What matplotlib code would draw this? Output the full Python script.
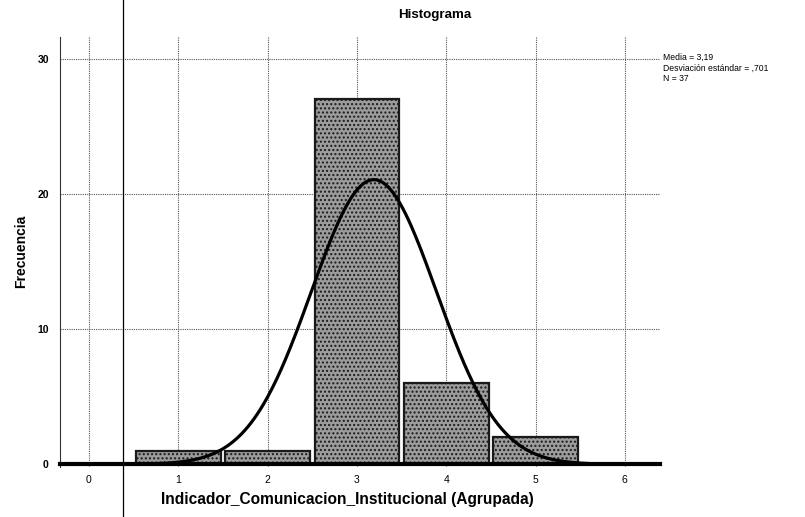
import numpy as np
import matplotlib.pyplot as plt
from matplotlib.lines import Line2D

plt.rcParams["font.family"] = ["Liberation Sans", "DejaVu Sans"]

# datos del histograma
categorias = [1, 2, 3, 4, 5]
frecuencias = [1, 1, 27, 6, 2]
media = 3.19
desviacion = 0.701
n_total = 37
x_ticks = [0, 1, 2, 3, 4, 5, 6]
y_ticks = [0, 10, 20, 30]

fig = plt.figure(figsize=(8.05, 5.17), dpi=100)
ax = fig.add_axes([0.0745, 0.0967, 0.745, 0.834])

ax.bar(categorias, frecuencias, width=0.95, color="#9c9c9c",
       edgecolor="#1a1a1a", linewidth=1.6, hatch="....", zorder=2)

# curva normal escalada a N * ancho de clase
xs = np.linspace(-0.3, 6.4, 400)
ys = n_total / (desviacion * np.sqrt(2 * np.pi)) * np.exp(-0.5 * ((xs - media) / desviacion) ** 2)
ax.plot(xs, ys, color="black", lw=2.3, zorder=3)

ax.set_xlim(-0.325, 6.39)
ax.set_ylim(-0.2, 31.7)
ax.set_xticks(x_ticks)
ax.set_yticks(y_ticks)
ax.tick_params(length=0, labelsize=7.5, pad=8)
for lbl in ax.get_xticklabels() + ax.get_yticklabels():
    lbl.set_fontweight("bold")

ax.grid(True, color="#555555", linestyle=(0, (1, 1)), linewidth=0.8, zorder=0)
ax.set_axisbelow(True)

for s in ["top", "right"]:
    ax.spines[s].set_visible(False)
ax.spines["left"].set_linestyle((0, (1, 1)))
ax.spines["left"].set_color("#333333")
ax.spines["bottom"].set_linewidth(3)
ax.spines["bottom"].set_position(("data", 0))
ax.spines["bottom"].set_zorder(4)

ax.set_title("Histograma", fontsize=9.6, fontweight="bold", x=0.625, pad=13)
ax.set_ylabel("Frecuencia", fontsize=10, fontweight="bold", labelpad=7)
ax.set_xlabel("Indicador_Comunicacion_Institucional (Agrupada)", fontsize=11.2,
              fontweight="bold", labelpad=5, x=0.48)

fig.text(0.824, 0.898, "Media = 3,19\nDesviación estándar = ,701\nN = 37",
         fontsize=6.2, va="top", ha="left", linespacing=1.25)

# línea vertical del escaneo original
fig.add_artist(Line2D([0.153, 0.153], [0.0, 1.0], color="black", lw=0.9))

fig.savefig("out.png", dpi=100)
